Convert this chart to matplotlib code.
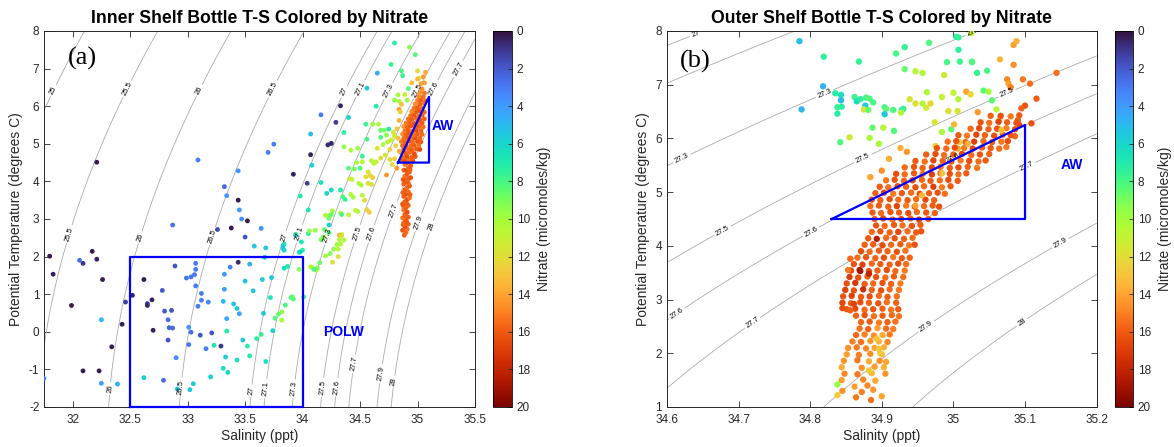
import numpy as np
import matplotlib.pyplot as plt
from matplotlib.ticker import FuncFormatter

plt.rcParams['font.family'] = ['Liberation Sans', 'DejaVu Sans']

# bottle samples: (salinity ppt, potential temperature C, nitrate umol/kg)
inner_west = [
    (31.75, -1.24, 3.2), (31.80, 2.01, 0.3), (31.83, 1.53, 0.4), (31.99, 0.70, 0.3),
    (32.06, 1.90, 2.8), (32.09, 1.82, 1.0), (32.09, -1.04, 0.3), (32.17, 2.14, 0.3),
    (32.21, 1.93, 0.4), (32.23, -1.04, 0.3), (32.25, 0.32, 4.8), (32.26, 1.39, 0.3),
    (32.25, -1.37, 4.2), (32.34, -0.40, 0.3), (32.39, -1.39, 4.4), (32.43, 0.20, 0.4),
    (32.46, 0.79, 1.2), (32.52, 0.97, 0.5), (32.62, -1.22, 5.6), (32.62, 1.39, 0.3),
    (32.65, 0.75, 1.3), (32.65, 0.70, 0.6), (32.69, 0.85, 0.5), (32.70, 0.04, 0.4),
    (32.78, 1.10, 2.0), (32.80, 0.55, 2.0), (32.83, 0.32, 2.6), (32.86, 0.57, 1.8),
    (32.84, 0.11, 2.4), (32.87, 0.10, 2.5), (32.83, -0.22, 1.8), (32.79, -1.29, 2.6),
    (32.87, 2.84, 2.8), (32.89, 1.75, 1.9), (32.90, -0.69, 3.5), (32.91, -1.52, 5.6),
    (32.99, 1.43, 2.8), (33.01, 0.12, 3.8), (33.01, -0.34, 3.0), (33.03, -0.01, 2.6),
    (33.02, -1.54, 5.4), (33.05, -1.38, 5.6), (33.03, 1.46, 2.9), (33.07, 1.82, 3.0),
    (33.07, 1.66, 3.1), (33.06, 1.52, 2.9), (33.07, 1.22, 3.0), (33.09, 0.68, 3.2),
    (33.12, 1.02, 3.0), (33.12, 0.84, 3.2), (33.11, -0.09, 1.9), (33.16, -0.45, 3.2),
    (33.18, 0.79, 3.3), (33.20, -1.20, 5.8), (33.21, -0.03, 1.8), (33.23, -0.36, 6.8),
    (33.29, -0.38, 1.0), (33.31, 0.81, 5.0), (33.32, 1.13, 4.2), (33.32, 1.53, 4.0),
    (33.31, -0.97, 6.3), (33.33, -0.67, 5.8), (33.34, 0.02, 7.0), (33.34, 0.35, 4.4),
    (33.35, -1.08, 6.0), (33.37, 1.72, 3.2), (33.38, 2.76, 0.3), (33.40, 0.74, 5.3),
    (33.43, -0.75, 6.4), (33.43, 0.62, 5.6), (33.44, 1.85, 0.6), (33.45, 0.48, 4.0),
    (33.45, 3.24, 4.0), (33.47, 3.00, 3.7), (33.44, 3.50, 0.3), (33.48, -0.22, 5.6),
    (33.50, 2.52, 1.8), (33.50, 1.35, 5.2), (33.52, 2.95, 0.3), (33.52, -0.38, 7.2),
    (33.54, 1.80, 4.6), (33.54, -0.64, 7.0), (33.57, 1.09, 5.3), (33.58, 2.28, 5.4),
    (33.60, -0.18, 7.4), (33.64, -0.07, 7.6), (33.64, 2.75, 3.6), (33.65, 1.39, 5.6),
    (33.66, 0.49, 5.6), (33.67, 1.98, 5.8), (33.68, 2.23, 5.6), (33.68, -0.79, 6.5),
    (33.72, 0.91, 6.8), (33.73, 1.44, 5.4), (33.74, 0.03, 6.0), (33.76, 0.36, 8.2),
    (33.79, 0.47, 8.6), (33.82, 0.31, 10.2), (33.83, 2.22, 6.4), (33.84, 2.33, 7.2),
    (33.84, 1.69, 6.4), (33.85, 0.71, 8.0), (33.87, 1.74, 7.0), (33.90, 0.91, 8.0),
    (33.92, 0.87, 8.4), (33.94, 2.59, 7.6), (33.97, 2.11, 7.4), (33.97, 1.66, 9.4),
    (32.21, 4.51, 0.3), (33.09, 4.57, 3.2), (33.32, 3.86, 2.4), (33.34, 3.62, 3.8),
    (33.44, 4.28, 3.8), (33.70, 4.77, 3.0), (33.75, 4.99, 3.2), (33.92, 4.19, 0.4),
    (33.26, 2.72, 1.6), (33.83, 2.29, 5.6), (33.84, 2.17, 5.8), (33.98, 3.61, 7.0),
    (34.04, 3.95, 1.2), (34.05, 3.24, 6.8), (33.94, 2.57, 6.4), (33.99, 2.39, 6.8),
    (34.00, 2.17, 7.2), (34.05, 2.61, 7.4), (33.82, 0.53, 9.4), (33.91, 0.93, 8.4),
    (34.01, 0.93, 8.0), (33.98, 2.13, 6.0),
]

inner_band = [
    (34.20, 3.10, 10.2), (34.26, 3.22, 10.0), (34.24, 3.10, 10.4), (34.33, 3.16, 10.6),
    (34.40, 3.11, 11.0), (34.06, 2.68, 9.6), (34.11, 2.70, 9.8), (34.19, 2.72, 8.8),
    (34.18, 2.52, 9.4), (34.16, 2.45, 9.0), (34.23, 2.84, 6.0), (34.23, 2.63, 8.4),
    (34.34, 2.59, 10.6), (34.33, 2.33, 10.2), (34.31, 2.20, 10.8), (34.36, 2.44, 10.4),
    (34.31, 2.00, 11.6), (34.26, 1.85, 11.8), (34.15, 1.84, 8.8), (34.08, 1.71, 10.0),
    (34.12, 1.64, 10.4), (34.80, 7.68, 7.2), (34.93, 7.57, 9.4), (34.98, 7.37, 8.2),
    (34.77, 7.11, 7.6), (34.86, 6.94, 8.0), (34.87, 6.81, 7.8), (34.65, 6.88, 4.6),
    (35.00, 6.94, 12.0), (35.01, 6.74, 11.6), (34.95, 6.62, 13.2), (34.56, 6.48, 5.6),
    (34.92, 6.47, 8.2), (34.89, 6.31, 11.2), (34.83, 6.30, 10.0), (34.80, 6.16, 9.6),
    (34.84, 6.13, 10.2), (34.91, 6.16, 9.8), (34.64, 6.00, 7.0), (34.84, 5.92, 14.2),
    (34.40, 5.70, 6.0), (34.16, 5.77, 3.0), (34.33, 6.01, 0.5), (34.29, 5.57, 1.2),
    (34.07, 5.26, 5.0), (34.25, 5.01, 0.5), (34.22, 4.97, 0.6), (34.07, 4.71, 0.4),
    (34.08, 4.43, 5.8), (34.16, 3.97, 6.6), (34.21, 3.68, 6.0), (34.25, 3.77, 6.2),
    (34.33, 3.77, 7.0), (34.36, 5.30, 7.4), (34.55, 5.52, 7.6), (34.61, 5.52, 9.6),
    (34.66, 5.52, 10.2), (34.68, 5.36, 8.6), (34.71, 5.36, 9.0), (34.75, 5.39, 7.0),
    (34.73, 5.23, 9.4), (34.68, 5.17, 8.2), (34.56, 5.12, 8.0), (34.70, 4.98, 10.4),
    (34.74, 5.05, 10.6), (34.77, 5.10, 10.8), (34.80, 5.20, 11.2), (34.65, 4.88, 11.6),
    (34.68, 4.62, 12.0), (34.72, 4.70, 11.4), (34.76, 4.58, 12.2), (34.36, 4.92, 9.6),
    (34.42, 4.83, 10.2), (34.48, 4.88, 9.8), (34.52, 4.67, 7.6), (34.47, 4.50, 10.0),
    (34.52, 4.52, 10.6), (34.60, 4.55, 10.4), (34.62, 4.48, 10.8), (34.64, 4.52, 11.0),
    (34.40, 4.35, 8.4), (34.45, 4.33, 8.8), (34.50, 4.35, 8.2), (34.57, 4.25, 11.8),
    (34.59, 4.15, 12.2), (34.61, 4.10, 12.6), (34.55, 4.12, 12.0), (34.41, 4.07, 11.6),
    (34.43, 4.05, 11.0), (34.49, 3.95, 10.6), (34.51, 3.90, 10.2), (34.57, 3.95, 12.0),
    (34.60, 3.92, 11.8), (34.35, 3.59, 8.0), (34.37, 3.52, 7.6), (34.42, 3.65, 10.4),
    (34.44, 3.58, 10.0), (34.52, 3.63, 10.6), (34.54, 3.50, 12.0), (34.56, 3.25, 12.4),
    (34.58, 3.18, 12.8), (34.48, 3.20, 10.2), (34.46, 3.23, 10.6), (34.34, 3.12, 8.0),
    (34.25, 3.12, 8.6), (34.23, 3.02, 8.8), (34.32, 2.57, 13.6), (34.34, 2.55, 12.0),
    (34.32, 2.45, 10.4), (34.30, 2.32, 10.0), (34.27, 2.20, 9.6), (34.24, 2.08, 9.2),
    (34.20, 2.02, 10.0), (34.13, 1.70, 9.0), (34.10, 1.66, 8.0), (34.07, 1.73, 10.4),
]

inner_core = [
    (34.885, 2.57, 16.0), (34.900, 2.64, 15.6), (34.870, 2.70, 16.2), (34.910, 2.73, 15.4),
    (34.890, 2.80, 16.4), (34.875, 2.85, 15.8), (34.920, 2.86, 15.8), (34.880, 2.90, 15.6),
    (34.905, 2.92, 16.0), (34.900, 2.96, 16.2), (34.870, 3.03, 15.2), (34.920, 3.05, 16.0),
    (34.895, 3.08, 15.8), (34.890, 3.12, 15.8), (34.910, 3.18, 16.4), (34.880, 3.24, 15.4),
    (34.900, 3.30, 16.0), (34.875, 3.35, 15.6), (34.920, 3.36, 15.6), (34.870, 3.40, 16.2),
    (34.905, 3.42, 16.0), (34.890, 3.46, 15.8), (34.910, 3.52, 16.4), (34.930, 3.56, 15.4),
    (34.880, 3.60, 15.8), (34.900, 3.66, 16.2), (34.935, 3.65, 15.8), (34.920, 3.72, 15.6),
    (34.875, 3.70, 16.0), (34.905, 3.75, 15.6), (34.890, 3.78, 16.0), (34.910, 3.84, 15.4),
    (34.930, 3.88, 16.2), (34.880, 3.93, 15.8), (34.920, 3.95, 15.6), (34.900, 3.99, 16.0),
    (34.875, 4.05, 16.4), (34.920, 4.05, 15.6), (34.905, 4.10, 15.8), (34.940, 4.10, 16.2),
    (34.890, 4.14, 15.4), (34.910, 4.20, 16.0), (34.930, 4.25, 15.8), (34.880, 4.30, 15.6),
    (34.900, 4.30, 16.4), (34.935, 4.32, 15.8), (34.920, 4.36, 15.6), (34.940, 4.41, 16.0),
    (34.890, 4.45, 15.2), (34.910, 4.50, 16.2),
    (34.860, 4.56, 15.8), (34.890, 4.55, 16.2), (34.930, 4.57, 15.4), (34.960, 4.54, 16.0),
    (34.880, 4.65, 15.6), (34.910, 4.66, 16.4), (34.950, 4.64, 15.8), (34.980, 4.66, 16.2),
    (34.860, 4.76, 15.2), (34.900, 4.75, 16.0), (34.930, 4.77, 15.6), (34.970, 4.74, 16.4),
    (34.880, 4.85, 16.2), (34.920, 4.86, 15.4), (34.950, 4.84, 16.0), (34.990, 4.86, 15.8),
    (35.020, 4.85, 16.6), (34.870, 4.95, 15.8), (34.900, 4.96, 16.2), (34.940, 4.94, 15.6),
    (34.970, 4.96, 16.0), (35.010, 4.95, 15.4), (34.860, 5.06, 15.0), (34.890, 5.05, 15.8),
    (34.930, 5.07, 16.4), (34.960, 5.04, 15.6), (35.000, 5.06, 16.2), (35.030, 5.05, 15.8),
    (34.880, 5.15, 15.4), (34.910, 5.16, 16.0), (34.950, 5.14, 15.6), (34.980, 5.16, 16.4),
    (35.020, 5.15, 15.8), (34.870, 5.26, 14.6), (34.900, 5.25, 15.8), (34.930, 5.27, 16.2),
    (34.970, 5.24, 15.4), (35.000, 5.26, 16.0), (35.040, 5.25, 15.6), (34.890, 5.35, 15.2),
    (34.920, 5.36, 16.0), (34.960, 5.34, 15.6), (34.990, 5.36, 16.4), (35.030, 5.35, 15.8),
    (34.880, 5.46, 14.4), (34.910, 5.45, 15.6), (34.940, 5.47, 16.2), (34.980, 5.44, 15.8),
    (35.010, 5.46, 16.0), (35.050, 5.45, 15.4), (34.900, 5.55, 15.0), (34.930, 5.56, 15.8),
    (34.970, 5.54, 16.4), (35.000, 5.56, 15.6), (35.040, 5.55, 16.0), (34.920, 5.66, 15.4),
    (34.950, 5.65, 16.0), (34.990, 5.67, 15.6), (35.020, 5.64, 16.2), (35.060, 5.66, 15.8),
    (34.940, 5.75, 15.6), (34.970, 5.76, 16.2), (35.010, 5.74, 15.4), (35.040, 5.76, 16.0),
    (34.950, 5.86, 14.8), (34.990, 5.85, 15.8), (35.020, 5.87, 16.4), (35.060, 5.84, 15.6),
    (34.970, 5.95, 15.2), (35.000, 5.96, 16.0), (35.040, 5.94, 15.6), (34.980, 6.06, 14.6),
    (35.020, 6.05, 15.8), (35.060, 6.07, 15.4), (35.000, 6.15, 15.0), (35.030, 6.16, 16.0),
    (35.070, 6.14, 15.6), (35.010, 6.26, 14.8), (35.050, 6.25, 15.4), (35.020, 6.36, 14.4),
    (35.060, 6.35, 15.2), (35.040, 6.46, 14.6), (35.030, 6.60, 14.0), (35.000, 6.72, 13.4),
    (35.060, 6.62, 14.2), (35.050, 6.78, 14.4), (35.070, 6.90, 14.0),
    (34.840, 5.62, 13.6), (34.820, 5.40, 12.8), (34.830, 5.15, 13.2), (34.810, 4.95, 12.4),
    (34.850, 5.85, 12.6), (34.860, 6.05, 13.0), (34.840, 4.80, 13.8), (34.800, 4.60, 12.6),
    (34.820, 4.35, 14.4), (34.780, 4.45, 12.0), (34.760, 4.85, 12.4), (34.790, 5.30, 11.8),
    (34.730, 4.17, 14.4),
]

outer_upper = [
    (34.785, 7.81, 5.2), (34.819, 7.52, 7.4), (34.868, 7.43, 7.6), (34.818, 6.97, 4.8),
    (34.788, 6.54, 4.8), (34.835, 6.84, 7.2), (34.843, 6.81, 6.4), (34.843, 6.71, 5.0),
    (34.838, 6.58, 7.6), (34.844, 6.59, 7.4), (34.838, 6.46, 7.2), (34.862, 6.77, 7.8),
    (34.865, 6.69, 6.6), (34.870, 6.73, 7.4), (34.878, 6.76, 8.0), (34.883, 6.74, 8.2),
    (34.888, 6.67, 8.0), (34.877, 6.61, 5.4), (34.875, 6.54, 11.6), (34.881, 6.53, 8.6),
    (34.904, 6.58, 8.0), (34.906, 6.55, 8.4), (34.904, 6.45, 5.4), (34.916, 6.53, 8.2),
    (34.928, 6.53, 6.8), (34.930, 6.55, 7.6), (34.927, 6.48, 10.4), (34.887, 6.20, 8.6),
    (34.883, 6.01, 10.2), (34.855, 6.02, 11.4), (34.842, 5.93, 8.2), (34.896, 5.90, 10.2),
    (34.902, 6.20, 10.6), (34.917, 6.14, 8.2), (34.926, 5.82, 13.6), (34.920, 7.58, 8.0),
    (34.932, 7.70, 7.6), (34.932, 7.29, 8.6), (34.947, 7.25, 10.6), (34.957, 7.22, 10.4),
    (34.966, 7.78, 8.2), (34.939, 6.73, 11.6), (34.947, 6.65, 11.8), (34.957, 6.65, 10.6),
    (34.962, 6.57, 11.2), (34.963, 6.86, 10.4), (34.968, 6.65, 12.2), (34.974, 6.30, 11.6),
    (34.975, 5.86, 12.2), (34.984, 6.77, 11.0), (34.987, 7.18, 11.4), (34.991, 7.42, 8.0),
    (34.993, 6.51, 12.0), (34.984, 6.12, 10.2), (34.997, 6.17, 8.4), (35.000, 6.85, 10.8),
    (35.004, 7.89, 7.2), (35.007, 7.88, 7.6), (35.009, 7.43, 7.8), (35.007, 7.65, 7.4),
    (35.007, 6.73, 10.4), (35.006, 6.51, 11.6), (35.008, 5.93, 12.6), (35.001, 6.26, 13.4),
    (35.006, 5.81, 13.8), (35.018, 6.87, 14.0), (35.024, 6.82, 12.4), (35.026, 7.42, 8.0),
    (35.033, 7.22, 7.6), (35.034, 6.49, 14.4), (35.047, 7.26, 8.0), (35.042, 6.89, 8.4),
    (35.049, 6.87, 10.2), (35.054, 6.71, 8.4), (35.060, 6.54, 10.6), (35.065, 7.47, 13.4),
    (35.065, 6.37, 12.8), (35.084, 7.74, 14.2), (35.088, 7.81, 13.6), (35.084, 7.37, 14.6),
    (35.075, 7.10, 14.8), (35.077, 7.02, 14.2), (35.080, 6.95, 15.0), (35.097, 7.10, 15.2),
    (35.107, 7.02, 15.4), (35.116, 6.74, 16.0), (35.100, 6.61, 16.2), (35.095, 6.56, 15.8),
    (35.144, 7.22, 15.4), (35.109, 6.28, 16.4), (35.090, 6.34, 16.0), (35.092, 6.25, 16.4),
    (35.086, 6.04, 15.6), (35.074, 5.84, 15.2), (35.063, 6.18, 13.2), (35.025, 7.96, 11.0),
    (35.026, 7.43, 8.2), (34.884, 5.28, 14.0),
]

outer_core = [
    (35.052, 6.42, 15.8), (35.066, 6.42, 16.4), (35.080, 6.41, 15.2), (35.092, 6.43, 16.0),
    (35.038, 6.30, 16.2), (35.050, 6.29, 15.4), (35.063, 6.31, 16.8), (35.075, 6.30, 15.8),
    (35.088, 6.29, 16.2), (35.024, 6.18, 15.6), (35.036, 6.19, 16.6), (35.049, 6.17, 15.8),
    (35.061, 6.18, 16.2), (35.074, 6.19, 15.0), (35.086, 6.17, 16.4), (35.007, 6.06, 16.0),
    (35.019, 6.05, 15.2), (35.032, 6.07, 16.6), (35.044, 6.06, 15.8), (35.057, 6.05, 16.4),
    (35.069, 6.07, 15.6), (35.080, 6.06, 16.2), (34.992, 5.94, 15.4), (35.004, 5.95, 16.2),
    (35.017, 5.93, 15.8), (35.029, 5.94, 16.8), (35.042, 5.95, 15.6), (35.054, 5.93, 16.0),
    (35.067, 5.94, 15.2), (35.076, 5.95, 16.4), (34.977, 5.82, 16.2), (34.990, 5.81, 15.6),
    (35.002, 5.83, 16.4), (35.015, 5.82, 15.2), (35.027, 5.81, 16.6), (35.040, 5.83, 15.8),
    (35.052, 5.82, 16.0), (35.064, 5.81, 15.4), (34.962, 5.70, 15.8), (34.975, 5.71, 16.4),
    (34.987, 5.69, 15.4), (35.000, 5.70, 16.0), (35.012, 5.71, 16.6), (35.025, 5.69, 15.6),
    (35.037, 5.70, 16.2), (35.050, 5.71, 15.8), (34.947, 5.58, 16.0), (34.960, 5.57, 15.4),
    (34.972, 5.59, 16.6), (34.985, 5.58, 15.8), (34.997, 5.57, 16.2), (35.010, 5.59, 15.2),
    (35.022, 5.58, 16.4), (35.035, 5.57, 15.6), (35.045, 5.59, 16.0), (34.932, 5.46, 15.6),
    (34.945, 5.47, 16.2), (34.957, 5.45, 15.8), (34.970, 5.46, 16.6), (34.982, 5.47, 15.4),
    (34.995, 5.45, 16.0), (35.007, 5.46, 16.4), (35.020, 5.47, 15.8), (35.033, 5.45, 15.2),
    (34.920, 5.34, 16.4), (34.932, 5.33, 15.6), (34.945, 5.35, 16.0), (34.957, 5.34, 15.2),
    (34.970, 5.33, 16.8), (34.982, 5.35, 15.8), (34.995, 5.34, 16.2), (35.007, 5.33, 15.4),
    (35.018, 5.35, 16.0), (34.906, 5.22, 15.2), (34.918, 5.23, 16.2), (34.931, 5.21, 15.8),
    (34.943, 5.22, 16.6), (34.956, 5.23, 15.6), (34.968, 5.21, 16.0), (34.981, 5.22, 15.4),
    (34.993, 5.23, 16.4), (35.006, 5.21, 15.8), (34.897, 5.10, 16.0), (34.909, 5.09, 15.4),
    (34.922, 5.11, 16.4), (34.934, 5.10, 15.8), (34.947, 5.09, 16.2), (34.959, 5.11, 15.6),
    (34.972, 5.10, 16.8), (34.984, 5.09, 15.2), (34.996, 5.11, 16.0), (34.891, 4.98, 15.8),
    (34.903, 4.99, 16.6), (34.916, 4.97, 15.2), (34.928, 4.98, 16.0), (34.941, 4.99, 15.6),
    (34.953, 4.97, 16.4), (34.966, 4.98, 15.8), (34.978, 4.99, 16.2), (34.988, 4.97, 15.4),
    (34.886, 4.86, 16.2), (34.898, 4.85, 15.8), (34.911, 4.87, 16.4), (34.923, 4.86, 15.4),
    (34.936, 4.85, 16.0), (34.948, 4.87, 15.6), (34.961, 4.86, 16.6), (34.973, 4.85, 15.8),
    (34.884, 4.74, 15.4), (34.896, 4.75, 16.0), (34.909, 4.73, 15.8), (34.921, 4.74, 16.6),
    (34.934, 4.75, 15.2), (34.946, 4.73, 16.2), (34.959, 4.74, 15.6), (34.971, 4.75, 16.0),
    (34.980, 4.73, 16.4), (34.887, 4.62, 16.0), (34.899, 4.61, 15.6), (34.912, 4.63, 16.2),
    (34.924, 4.62, 15.8), (34.937, 4.61, 16.4), (34.949, 4.63, 15.4), (34.962, 4.62, 16.0),
    (34.974, 4.61, 15.8), (34.890, 4.50, 15.8), (34.902, 4.51, 16.4), (34.915, 4.49, 15.2),
    (34.927, 4.50, 16.0), (34.940, 4.51, 15.6), (34.952, 4.49, 16.6), (34.965, 4.50, 15.8),
    (34.892, 4.38, 16.2), (34.904, 4.37, 15.6), (34.917, 4.39, 16.0), (34.929, 4.38, 15.4),
    (34.942, 4.37, 16.2), (34.954, 4.39, 15.8), (34.886, 4.26, 15.6), (34.898, 4.27, 16.2),
    (34.911, 4.25, 15.8), (34.923, 4.26, 16.6), (34.936, 4.27, 15.4), (34.948, 4.25, 16.0),
    (34.955, 4.27, 16.2), (34.881, 4.14, 16.0), (34.893, 4.13, 18.4), (34.906, 4.15, 15.6),
    (34.918, 4.14, 16.2), (34.931, 4.13, 15.8), (34.943, 4.15, 15.4), (34.876, 4.02, 15.8),
    (34.888, 4.03, 16.0), (34.901, 4.01, 16.4), (34.913, 4.02, 15.6), (34.926, 4.03, 16.0),
    (34.938, 4.01, 15.2), (34.946, 4.02, 16.2), (34.871, 3.90, 16.4), (34.883, 3.89, 15.6),
    (34.896, 3.91, 16.0), (34.908, 3.90, 15.8), (34.921, 3.89, 16.2), (34.933, 3.91, 15.4),
    (34.866, 3.78, 15.6), (34.878, 3.79, 16.2), (34.891, 3.77, 15.8), (34.903, 3.78, 16.4),
    (34.916, 3.79, 15.2), (34.928, 3.77, 16.0), (34.939, 3.78, 15.8), (34.861, 3.66, 16.2),
    (34.873, 3.65, 16.8), (34.886, 3.67, 15.6), (34.898, 3.66, 16.0), (34.911, 3.65, 15.8),
    (34.923, 3.67, 16.4), (34.934, 3.66, 15.4), (34.857, 3.54, 16.6), (34.869, 3.55, 18.6),
    (34.882, 3.53, 16.2), (34.894, 3.54, 15.8), (34.907, 3.55, 16.4), (34.919, 3.53, 15.6),
    (34.932, 3.54, 15.2), (34.855, 3.42, 17.0), (34.867, 3.41, 16.4), (34.880, 3.43, 15.8),
    (34.892, 3.42, 16.2), (34.905, 3.41, 15.6), (34.917, 3.43, 16.0), (34.930, 3.42, 15.4),
    (34.851, 3.30, 16.4), (34.863, 3.31, 17.2), (34.876, 3.29, 16.0), (34.888, 3.30, 15.6),
    (34.901, 3.31, 16.2), (34.913, 3.29, 15.8), (34.926, 3.30, 15.0), (34.849, 3.18, 16.8),
    (34.861, 3.17, 16.2), (34.874, 3.19, 17.6), (34.886, 3.18, 15.8), (34.899, 3.17, 16.4),
    (34.911, 3.19, 15.6), (34.924, 3.18, 15.2), (34.846, 3.06, 16.2), (34.858, 3.07, 16.8),
    (34.871, 3.05, 16.0), (34.883, 3.06, 16.4), (34.896, 3.07, 15.6), (34.908, 3.05, 16.0),
    (34.921, 3.06, 15.4), (34.845, 2.94, 16.6), (34.857, 2.93, 16.0), (34.870, 2.95, 16.4),
    (34.882, 2.94, 15.8), (34.895, 2.93, 16.2), (34.907, 2.95, 15.4), (34.920, 2.94, 15.8),
    (34.851, 2.82, 16.0), (34.863, 2.83, 16.6), (34.876, 2.81, 15.6), (34.888, 2.82, 16.2),
    (34.901, 2.83, 15.8), (34.913, 2.81, 15.2), (34.923, 2.82, 16.0), (34.864, 2.70, 15.8),
    (34.876, 2.71, 16.2), (34.889, 2.69, 15.4), (34.901, 2.70, 16.0), (34.914, 2.71, 15.6),
    (34.924, 2.69, 15.2), (34.871, 2.58, 15.6), (34.883, 2.59, 16.0), (34.896, 2.57, 15.2),
    (34.908, 2.58, 15.8), (34.919, 2.59, 15.4), (34.869, 2.46, 15.4), (34.881, 2.45, 15.8),
    (34.894, 2.47, 14.2), (34.906, 2.46, 15.6), (34.916, 2.45, 15.0), (34.864, 2.34, 15.6),
    (34.876, 2.35, 15.0), (34.889, 2.33, 14.6), (34.901, 2.34, 13.8), (34.911, 2.35, 15.2),
    (34.859, 2.22, 15.0), (34.871, 2.21, 15.4), (34.884, 2.23, 14.4), (34.896, 2.22, 13.6),
    (34.908, 2.21, 14.8), (34.853, 2.10, 14.6), (34.865, 2.11, 15.2), (34.878, 2.09, 14.8),
    (34.890, 2.10, 14.0), (34.903, 2.11, 13.8), (34.851, 1.98, 14.2), (34.868, 1.97, 15.0),
    (34.884, 1.99, 14.6), (34.900, 1.98, 13.4), (34.847, 1.86, 14.4), (34.866, 1.87, 15.2),
    (34.882, 1.85, 13.8), (34.897, 1.86, 14.6), (34.906, 1.84, 14.0), (34.844, 1.74, 13.8),
    (34.872, 1.73, 14.6), (34.890, 1.75, 14.2), (34.903, 1.74, 13.6), (34.848, 1.62, 14.8),
    (34.866, 1.61, 15.2), (34.886, 1.63, 13.4), (34.905, 1.62, 14.4), (34.844, 1.50, 14.2),
    (34.874, 1.51, 14.8), (34.891, 1.49, 14.0), (34.838, 1.42, 9.6), (34.862, 1.38, 14.2),
    (34.880, 1.40, 14.8), (34.845, 1.30, 14.6), (34.872, 1.28, 15.0), (34.888, 1.32, 14.4),
    (34.838, 1.22, 12.6), (34.864, 1.18, 15.2), (34.900, 1.20, 14.0), (34.885, 1.13, 15.4),
    (34.856, 3.76, 15.6), (34.853, 3.55, 15.2), (34.870, 3.53, 18.8), (34.882, 3.48, 18.0),
    (34.845, 2.84, 16.4), (34.856, 2.80, 15.8), (34.861, 2.92, 16.8),
]

# lighter samples scattered through the dense cloud
outer_light = [
    (34.984, 5.35, 13.0), (34.956, 4.94, 13.5), (35.067, 6.15, 13.2), (34.947, 4.75, 14.0),
    (34.893, 2.27, 13.0), (34.898, 2.00, 12.8), (34.882, 1.68, 12.6), (34.896, 2.08, 12.8),
    (34.910, 5.62, 13.8), (34.900, 5.40, 14.6), (34.935, 5.75, 14.4), (35.020, 5.90, 13.6),
]

# water mass boxes
polw_sal = [32.5, 34.0, 34.0, 32.5, 32.5]
polw_temp = [-2.0, -2.0, 2.0, 2.0, -2.0]
aw_sal = [34.83, 35.1, 35.1, 34.83]
aw_temp = [4.5, 4.5, 6.25, 4.5]

inner_levels = [25, 25.5, 26, 26.5, 27, 27.1, 27.3, 27.5, 27.6, 27.7, 27.9, 28]
outer_levels = [27, 27.1, 27.3, 27.5, 27.6, 27.7, 27.9, 28]

inner_label_pos = [(31.82, 6.43), (32.45, 6.50), (31.95, 2.62), (33.08, 6.45), (32.57, 2.52),
                   (32.31, -1.51), (33.73, 6.47), (33.19, 2.57), (32.93, -1.47), (34.33, 6.43),
                   (33.83, 2.52), (33.53, -1.56), (34.48, 6.5), (33.96, 2.62), (33.67, -1.51),
                   (34.72, 6.45), (34.20, 2.57), (33.91, -1.51), (34.97, 6.47), (34.46, 2.62),
                   (34.16, -1.47), (35.12, 6.5), (34.59, 2.62), (34.29, -1.47), (35.35, 7.0),
                   (34.78, 3.24), (34.44, -0.85), (35.0, 2.92), (34.67, -1.11), (35.12, 2.79),
                   (34.78, -1.33)]
outer_label_pos = [(34.64, 7.95), (34.62, 5.65), (34.82, 6.84), (35.03, 7.96), (34.875, 5.59),
                   (34.677, 4.29), (35.075, 6.84), (34.614, 2.73), (34.80, 4.29), (34.998, 5.65),
                   (34.72, 2.55), (35.103, 5.47), (34.963, 2.48), (35.15, 4.04), (35.096, 2.58)]


def sigma_theta(s, t):
    # UNESCO 1981 density at zero pressure, minus 1000
    rho_w = (999.842594 + 6.793952e-2 * t - 9.095290e-3 * t**2 + 1.001685e-4 * t**3
             - 1.120083e-6 * t**4 + 6.536332e-9 * t**5)
    a = 8.24493e-1 - 4.0899e-3 * t + 7.6438e-5 * t**2 - 8.2467e-7 * t**3 + 5.3875e-9 * t**4
    b = -5.72466e-3 + 1.0227e-4 * t - 1.6546e-6 * t**2
    return rho_w + a * s + b * s**1.5 + 4.8314e-4 * s**2 - 1000.0


def ts_panel(ax, cax, groups, xlim, ylim, xticks, yticks, levels, label_pos, title, tag, size):
    ss, tt = np.meshgrid(np.linspace(xlim[0], xlim[1], 300), np.linspace(ylim[0], ylim[1], 300))
    cs = ax.contour(ss, tt, sigma_theta(ss, tt), levels=levels, colors='#ababab', linewidths=0.6)
    ax.clabel(cs, fmt='%g', fontsize=5.5, colors='k', manual=label_pos, inline=True, inline_spacing=2)

    for g in groups:
        d = np.array(g)
        sc = ax.scatter(d[:, 0], d[:, 1], c=d[:, 2], cmap='turbo', vmin=0, vmax=20,
                        s=size, edgecolors='none', zorder=3)

    ax.set_xlim(xlim)
    ax.set_ylim(ylim)
    ax.set_xticks(xticks)
    ax.set_yticks(yticks)
    fmt = FuncFormatter(lambda v, p: f'{v:g}')
    ax.xaxis.set_major_formatter(fmt)
    ax.yaxis.set_major_formatter(fmt)
    ax.tick_params(direction='in', top=True, right=True, length=4, width=0.6,
                   labelsize=8.5, colors='#262626')
    ax.tick_params(axis='x', pad=5)
    for sp in ax.spines.values():
        sp.set_linewidth(0.7)
        sp.set_color('#262626')
    ax.set_title(title, fontsize=12.7, fontweight='bold', pad=6)
    ax.set_xlabel('Salinity (ppt)', fontsize=10, color='#262626', labelpad=2)
    ax.set_ylabel('Potential Temperature (degrees C)', fontsize=10, color='#262626', labelpad=4)
    ax.text(tag[1], tag[2], tag[0], transform=ax.transAxes, fontsize=19,
            family='Liberation Serif', ha='center', va='center')

    cb = fig.colorbar(sc, cax=cax, ticks=range(0, 21, 2))
    cax.invert_yaxis()
    cb.outline.set_linewidth(0.6)
    cax.tick_params(direction='in', length=3, width=0.6, labelsize=8.5, colors='#262626')
    cb.set_label('Nitrate (micromoles/kg)', fontsize=10, color='#262626', labelpad=5)


fig = plt.figure(figsize=(11.74, 4.47), dpi=100)
ax1 = fig.add_axes([0.0377, 0.0895, 0.3669, 0.8412])
cax1 = fig.add_axes([0.4199, 0.0895, 0.0162, 0.8412])
ax2 = fig.add_axes([0.5681, 0.0895, 0.3660, 0.8412])
cax2 = fig.add_axes([0.9497, 0.0895, 0.0153, 0.8412])

ts_panel(ax1, cax1, [inner_west, inner_band, inner_core], (31.753, 35.5), (-2, 8),
         np.arange(32, 35.6, 0.5), range(-2, 9), inner_levels, inner_label_pos,
         'Inner Shelf Bottle T-S Colored by Nitrate', ('(a)', 0.0875, 0.928), 12)
ax1.plot(polw_sal, polw_temp, color='#0000ff', lw=1.6, zorder=4, clip_on=False)
ax1.plot(aw_sal, aw_temp, color='#0000ff', lw=1.6, zorder=4)
ax1.text(35.22, 5.47, 'AW', color='#0000ff', fontsize=10, fontweight='bold', ha='center', va='center')
ax1.text(34.36, 0.0, 'POLW', color='#0000ff', fontsize=10, fontweight='bold', ha='center', va='center')

ts_panel(ax2, cax2, [outer_upper, outer_core, outer_light], (34.6, 35.2), (1, 8),
         np.arange(34.6, 35.25, 0.1), range(1, 9), outer_levels, outer_label_pos,
         'Outer Shelf Bottle T-S Colored by Nitrate', ('(b)', 0.065, 0.918), 21)
ax2.plot(aw_sal, aw_temp, color='#0000ff', lw=1.6, zorder=4)
ax2.text(35.165, 5.5, 'AW', color='#0000ff', fontsize=10, fontweight='bold', ha='center', va='center')

fig.savefig('out.png', dpi=100)
